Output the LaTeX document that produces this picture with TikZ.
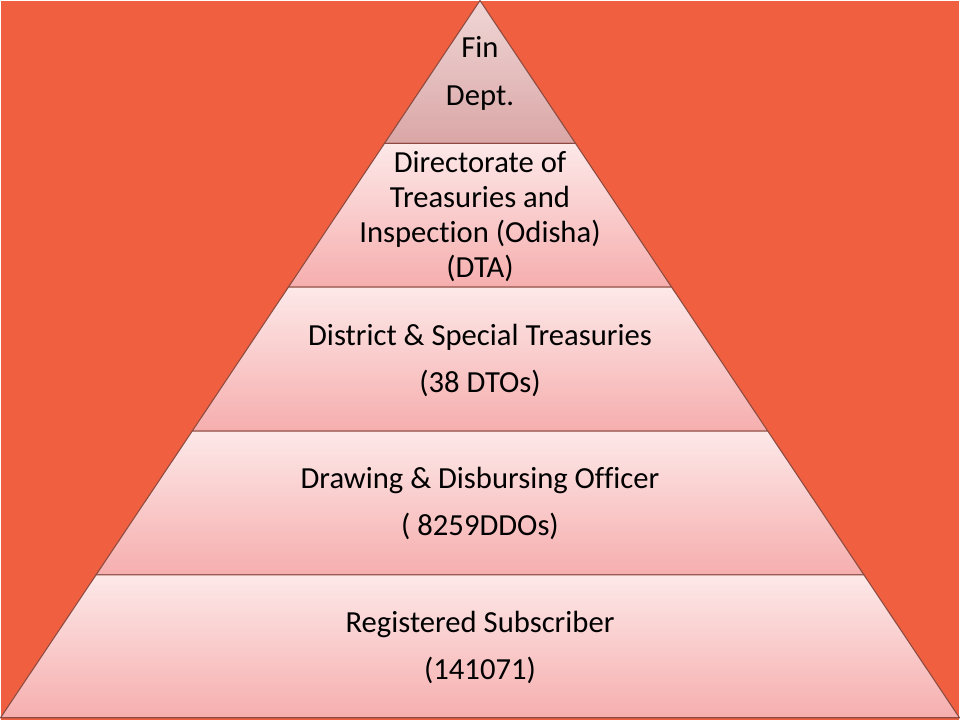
\documentclass[tikz,border=0pt]{standalone}
\usepackage{fontspec}
\setmainfont{Carlito}[Ligatures=CommonOff]
\definecolor{slidebg}{RGB}{240,96,64}
\definecolor{tierline}{RGB}{140,74,64}
\definecolor{tierlight}{RGB}{253,232,232}
\definecolor{tierdark}{RGB}{246,174,174}
\definecolor{apexlight}{RGB}{240,214,214}
\definecolor{apexdark}{RGB}{218,166,166}
\begin{document}
\begin{tikzpicture}[x=0.75pt, y=-0.75pt,
  tier/.style={draw=tierline, line width=0.8pt, top color=tierlight, bottom color=tierdark},
  apex/.style={draw=tierline, line width=0.8pt, top color=apexlight, bottom color=apexdark},
  label/.style={align=center, font=\fontsize{23}{35.3}\selectfont, text=black},
  tightlabel/.style={align=center, font=\fontsize{23}{26.3}\selectfont, text=black}]
  \fill[slidebg] (0,0) rectangle (960,720); % slide background

  \shadedraw[apex] (480,0) -- (575.6,143) -- (384.4,143) -- cycle;
  \shadedraw[tier] (384.4,143) -- (575.6,143) -- (671.9,287) -- (288.1,287) -- cycle;
  \shadedraw[tier] (288.1,287) -- (671.9,287) -- (768.1,431) -- (191.9,431) -- cycle;
  \shadedraw[tier] (191.9,431) -- (768.1,431) -- (864.4,575) -- (95.6,575) -- cycle;
  \shadedraw[tier] (95.6,575) -- (864.4,575) -- (960,718) -- (0,718) -- cycle;

  \node[label, font=\fontsize{23}{36}\selectfont] (fin) at (480,73) {Fin\\Dept.};
  \node[tightlabel] (dta) at (480,216.5) {Directorate of\\Treasuries and\\Inspection (Odisha)\\(DTA)};
  \node[label] (dto) at (480,360.5) {District \& Special Treasuries\\(38 DTOs)};
  \node[label] (ddo) at (480,503.5) {Drawing \& Disbursing Officer\\( 8259DDOs)};
  \node[label] (sub) at (480,648) {Registered Subscriber\\(141071)};

\end{tikzpicture}
\end{document}
